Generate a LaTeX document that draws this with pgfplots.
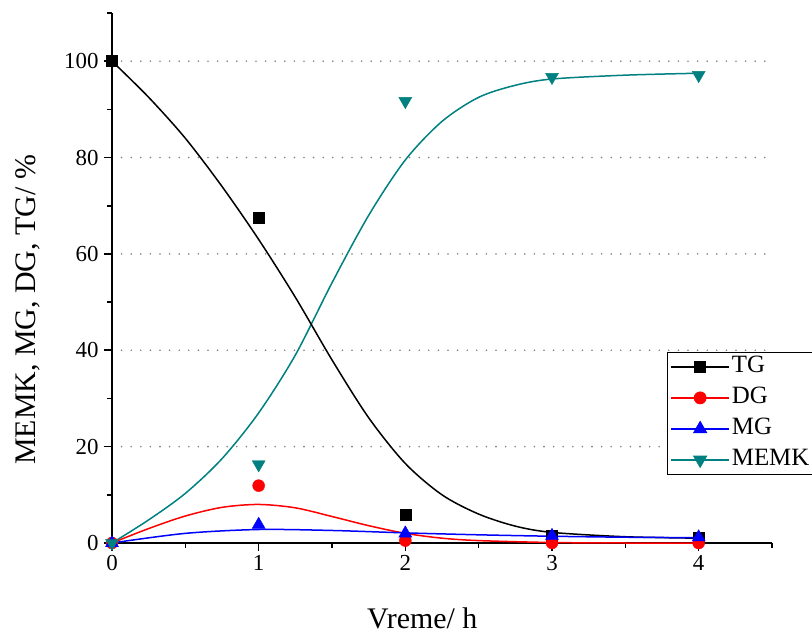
\documentclass[border=0pt]{standalone}
\usepackage{pgfplots}
\pgfplotsset{compat=1.18}
\usepackage{fontspec}
\setmainfont{Liberation Serif}
\definecolor{tealc}{RGB}{0,128,128}
\newcommand{\lf}{\fontsize{25}{29}\selectfont}
\begin{document}
\begin{tikzpicture}
\begin{axis}[
  at={(0,0)}, anchor=south west,
  scale only axis, width=660bp, height=530bp,
  xmin=0, xmax=4.5, ymin=0, ymax=110,
  axis x line*=bottom, axis y line*=left,
  xtick={0,1,2,3,4}, minor xtick={0.5,1.5,2.5,3.5,4.5},
  ytick={0,20,40,60,80,100}, minor ytick={10,30,50,70,90,110},
  tick align=outside, major tick length=8bp, minor tick length=5bp,
  axis line style={line width=1.6bp},
  every tick/.style={line width=1.6bp, black},
  ymajorgrids,
  major grid style={gray, line width=1.8bp, dash pattern=on 0pt off 9.6bp, line cap=round},
  /pgf/number format/assume math mode=true,
  tick label style={font=\fontsize{23}{27}\selectfont},
  yticklabel style={xshift=-2bp},
  xticklabel style={yshift=-1bp},
  label style={font=\fontsize{30}{35}\selectfont},
  xlabel={Vreme/ h}, ylabel={MEMK, MG, DG, TG/ \%},
  xlabel style={at={(axis description cs:0.47,-0.162)}, anchor=base},
  ylabel style={at={(axis description cs:-0.127,0.44)}, anchor=center},
  legend style={at={(axis description cs:0.841,0.3604)}, anchor=north west,
    draw=black, line width=0.8bp,
    inner xsep=3bp, inner ysep=2bp, row sep=6bp,
    nodes={text height=16bp, text depth=5bp, inner sep=2bp}},
  legend cell align=left,
  legend image code/.code={\draw[#1, line width=1.4bp] (0bp,0bp) -- (58bp,0bp); \draw[#1, mark repeat=2, mark phase=2] plot coordinates {(0bp,0bp) (29bp,0bp) (58bp,0bp)};},
  clip=false,
]
% legend images
\addlegendimage{black, mark=square*, mark size=5.5bp}
\addlegendentry{\lf TG}
\addlegendimage{red, mark=*, mark size=6bp}
\addlegendentry{\lf DG}
\addlegendimage{blue, mark=triangle*, mark size=7.5bp}
\addlegendentry{\lf MG}
\addlegendimage{tealc, mark=triangle*, mark size=7.5bp, mark options={rotate=180}}
\addlegendentry{\lf MEMK}

% fitted curves
\addplot[tealc, line width=1.5bp, smooth, forget plot] coordinates {
(0,0) (0.25,4.8) (0.5,10.3) (0.75,17.5) (1,27) (1.25,39) (1.5,54) (1.75,68) (2,79.5) (2.25,87.5) (2.5,92.5) (2.75,95) (3,96.3) (3.5,97.1) (4,97.5)};
\addplot[black, line width=1.5bp, smooth, forget plot] coordinates {
(0,100) (0.25,92.5) (0.5,84) (0.75,74) (1,63) (1.25,51) (1.5,38) (1.75,26) (2,16.5) (2.25,10) (2.5,6) (2.75,3.5) (3,2.2) (3.5,1.3) (4,1.0)};
\addplot[red, line width=1.5bp, smooth, forget plot] coordinates {
(0,0) (0.25,3.0) (0.5,5.6) (0.75,7.4) (1,8.0) (1.25,7.3) (1.5,5.5) (1.75,3.6) (2,2.0) (2.25,1.0) (2.5,0.5) (3,0.1) (3.5,0.0) (4,0.0)};
\addplot[blue, line width=1.5bp, smooth, forget plot] coordinates {
(0,0) (0.5,2.0) (1,2.8) (1.5,2.6) (2,2.1) (2.5,1.7) (3,1.4) (3.5,1.2) (4,1.1)};

% data markers
\addplot[only marks, black, mark=square*, mark size=5.5bp, forget plot] coordinates {
(0,100) (1,67.5) (2,5.8) (3,1.5) (4,1.2)};
\addplot[only marks, red, mark=*, mark size=6bp, forget plot] coordinates {
(0,0) (1,11.9) (2,0.5) (3,0) (4,0)};
\addplot[only marks, blue, mark=triangle*, mark size=7.5bp, forget plot] coordinates {
(0,0) (1,3.8) (2,2.0) (3,1.5) (4,1.2)};
\addplot[only marks, tealc, mark=triangle*, mark size=7.5bp, mark options={rotate=180}, forget plot] coordinates {
(0,0) (1,16.3) (2,91.7) (3,96.7) (4,97.1)};
\end{axis}
\pgfresetboundingbox
\useasboundingbox (-112bp,-94bp) rectangle (700bp,543bp);
\end{tikzpicture}
\end{document}
